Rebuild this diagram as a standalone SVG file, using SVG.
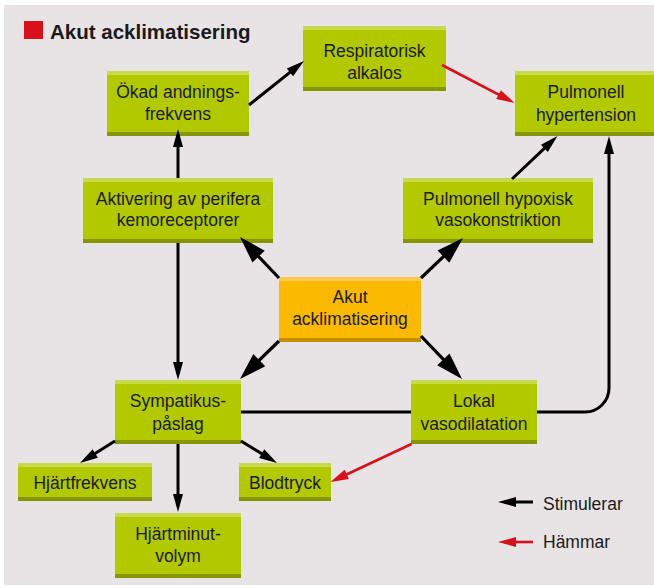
<svg xmlns="http://www.w3.org/2000/svg" width="654" height="588" viewBox="0 0 654 588">
<style>
.bg{fill:#e8e3e4}
.g{fill:#b2c900}.gt{fill:#c8da4c}.gb{fill:#859600}
.o{fill:#fbb900}.ot{fill:#fcca4e}.ob{fill:#c38f00}
text{font-family:"Liberation Sans",Arial,sans-serif;font-size:17.5px;fill:#1a1a1a;text-anchor:middle}
.title{font-size:20.5px;font-weight:bold;text-anchor:start}
.leg{text-anchor:start}
.c{fill:none;stroke:#000;stroke-width:3}
.cb{fill:none;stroke:#000;stroke-width:3.2}
.r{fill:none;stroke:#d9101a;stroke-width:2.6}
</style>
<defs>
<marker id="as" markerUnits="userSpaceOnUse" markerWidth="18" markerHeight="10" refX="12" refY="5" orient="auto" overflow="visible"><path d="M0,0 L18,5 L0,10 z" fill="#000"/></marker>
<marker id="ab" markerUnits="userSpaceOnUse" markerWidth="27" markerHeight="17" refX="19" refY="8.5" orient="auto" overflow="visible"><path d="M0,0 L27,8.5 L0,17 z" fill="#000"/></marker>
<marker id="ar" markerUnits="userSpaceOnUse" markerWidth="18" markerHeight="10" refX="12" refY="5" orient="auto" overflow="visible"><path d="M0,0 L18,5 L0,10 z" fill="#d9101a"/></marker>
</defs>
<rect x="0" y="0" width="654" height="588" fill="#fff"/>
<rect class="bg" x="4" y="5" width="650" height="580"/>
<g id="title">
<rect x="24" y="21" width="19" height="18" fill="#d9101a"/>
<text class="title" x="50" y="39">Akut acklimatisering</text>
</g>

<g id="okad"><rect class="g" x="107" y="71" width="142" height="65"/><rect class="gt" x="107" y="71" width="142" height="4"/><rect class="gb" x="107" y="132" width="142" height="4"/>
<text x="178" y="98">Ökad andnings-</text><text x="178" y="120">frekvens</text></g>

<g id="resp"><rect class="g" x="303" y="26" width="143" height="65"/><rect class="gt" x="303" y="26" width="143" height="4"/><rect class="gb" x="303" y="87" width="143" height="4"/>
<text x="374.5" y="57">Respiratorisk</text><text x="374.5" y="79">alkalos</text></g>

<g id="pulmhyp"><rect class="g" x="515" y="71" width="142" height="65"/><rect class="gt" x="515" y="71" width="142" height="4"/><rect class="gb" x="515" y="132" width="142" height="4"/>
<text x="586" y="98">Pulmonell</text><text x="586" y="120.5">hypertension</text></g>

<g id="aktiv"><rect class="g" x="83" y="178" width="190" height="65"/><rect class="gt" x="83" y="178" width="190" height="4"/><rect class="gb" x="83" y="239" width="190" height="4"/>
<text x="178" y="205">Aktivering av perifera</text><text x="178" y="226">kemoreceptorer</text></g>

<g id="phv"><rect class="g" x="403" y="178" width="190" height="65"/><rect class="gt" x="403" y="178" width="190" height="4"/><rect class="gb" x="403" y="239" width="190" height="4"/>
<text x="498" y="205">Pulmonell hypoxisk</text><text x="498" y="226">vasokonstriktion</text></g>

<g id="akut"><rect class="o" x="279" y="277" width="142" height="65"/><rect class="ot" x="279" y="277" width="142" height="4"/><rect class="ob" x="279" y="338" width="142" height="4"/>
<text x="350" y="303">Akut</text><text x="350" y="325">acklimatisering</text></g>

<g id="symp"><rect class="g" x="115" y="380" width="126" height="64"/><rect class="gt" x="115" y="380" width="126" height="4"/><rect class="gb" x="115" y="440" width="126" height="4"/>
<text x="178" y="407">Sympatikus-</text><text x="178" y="430">påslag</text></g>

<g id="lokal"><rect class="g" x="411" y="380" width="126" height="64"/><rect class="gt" x="411" y="380" width="126" height="4"/><rect class="gb" x="411" y="440" width="126" height="4"/>
<text x="474" y="407">Lokal</text><text x="474" y="429.5">vasodilatation</text></g>

<g id="hjf"><rect class="g" x="18" y="463" width="134" height="38"/><rect class="gt" x="18" y="463" width="134" height="4"/><rect class="gb" x="18" y="497" width="134" height="4"/>
<text x="85" y="488.5">Hjärtfrekvens</text></g>

<g id="blod"><rect class="g" x="239" y="463" width="92" height="38"/><rect class="gt" x="239" y="463" width="92" height="4"/><rect class="gb" x="239" y="497" width="92" height="4"/>
<text x="285" y="488.5">Blodtryck</text></g>

<g id="hjm"><rect class="g" x="115" y="513" width="126" height="65"/><rect class="gt" x="115" y="513" width="126" height="4"/><rect class="gb" x="115" y="574" width="126" height="4"/>
<text x="178" y="540">Hjärtminut-</text><text x="178" y="562">volym</text></g>

<g id="connectors">
<path class="c" d="M249,105 L299.3,64.8" marker-end="url(#as)"/>
<path class="c" d="M178,178 V135" marker-end="url(#as)"/>
<path class="c" d="M178,243 V374" marker-end="url(#as)"/>
<path class="cb" d="M279,278 L245.5,242.8" marker-end="url(#ab)"/>
<path class="cb" d="M421,278 L457.2,243.5" marker-end="url(#ab)"/>
<path class="cb" d="M279,341 L245.7,373.4" marker-end="url(#ab)"/>
<path class="cb" d="M421,336 L456.5,373.2" marker-end="url(#ab)"/>
<path class="c" d="M512,179 L553.1,140.1" marker-end="url(#as)"/>
<path class="c" d="M537,412 H585 A24,24 0 0 0 609,388 V142" marker-end="url(#as)"/>
<path class="c" d="M241,412 H411"/>
<path class="c" d="M115,441 L85.1,459.8" marker-end="url(#as)"/>
<path class="c" d="M178,444 V506" marker-end="url(#as)"/>
<path class="c" d="M241,441 L271.9,459.9" marker-end="url(#as)"/>
<path class="r" d="M442,65 L509.2,100.2" marker-end="url(#ar)"/>
<path class="r" d="M411.5,444 L335.9,479.5" marker-end="url(#ar)"/>
</g>
<g id="legend">
<path class="c" d="M533,502 H504" marker-end="url(#as)"/>
<text class="leg" x="543" y="510">Stimulerar</text>
<path class="r" d="M533,542 H504" marker-end="url(#ar)"/>
<text class="leg" x="543" y="548">Hämmar</text>
</g>
</svg>
